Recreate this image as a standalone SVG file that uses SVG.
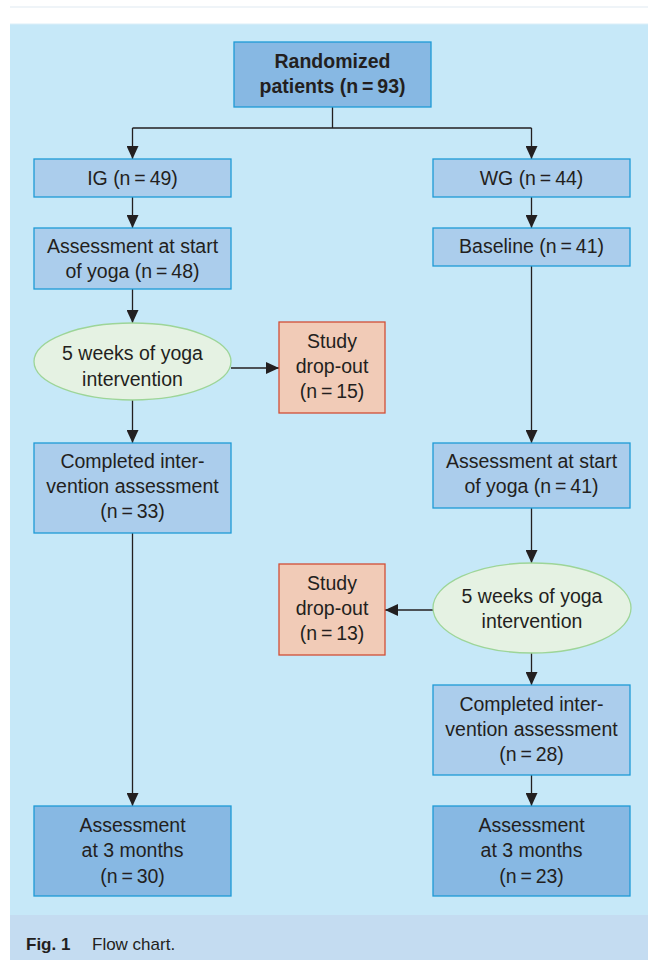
<svg xmlns="http://www.w3.org/2000/svg" width="648" height="960" viewBox="0 0 648 960">
<defs>
<marker id="ah" markerWidth="13" markerHeight="12" refX="13" refY="6" orient="auto" markerUnits="userSpaceOnUse">
<path d="M0,0 L13,6 L0,12 z" fill="#231f20"/>
</marker>
<style>
text{font-family:"Liberation Sans",Arial,sans-serif;font-size:19.5px;fill:#231f20;text-anchor:middle}
.b{font-weight:bold}
.box{fill:#abcdec;stroke:#1e9ad6;stroke-width:1.3}
.dark{fill:#87b8e3;stroke:#1e9ad6;stroke-width:1.3}
.drop{fill:#f1cbb7;stroke:#d24f37;stroke-width:1.3}
.ell{fill:#e5f2e3;stroke:#9dd598;stroke-width:1.3}
.c{fill:none;stroke:#231f20;stroke-width:1.3}
</style>
</defs>
<line x1="10" y1="7" x2="648" y2="7" stroke="#dfe9f1" stroke-width="1.2"/>
<rect x="10" y="24" width="638" height="891" fill="#c6e8f8"/>
<line x1="10" y1="24" x2="648" y2="24" stroke="#dbeef8" stroke-width="1"/>
<rect x="10" y="915" width="638" height="45" fill="#c4dcf1"/>
<text x="26" y="950" style="text-anchor:start;font-size:17px" class="b">Fig. 1</text>
<text x="92" y="950" style="text-anchor:start;font-size:17px">Flow chart.</text>

<g id="connectors">
<path class="c" d="M332.5,107 V128 M132.5,128 H531.5"/>
<path class="c" d="M132.5,128 V159" marker-end="url(#ah)"/>
<path class="c" d="M531.5,128 V159" marker-end="url(#ah)"/>
<path class="c" d="M132.5,197 V228" marker-end="url(#ah)"/>
<path class="c" d="M531.5,197 V228" marker-end="url(#ah)"/>
<path class="c" d="M132.5,289 V323" marker-end="url(#ah)"/>
<path class="c" d="M231,368 H279" marker-end="url(#ah)"/>
<path class="c" d="M132.5,400 V443" marker-end="url(#ah)"/>
<path class="c" d="M132.5,533 V806" marker-end="url(#ah)"/>
<path class="c" d="M531.5,266 V443" marker-end="url(#ah)"/>
<path class="c" d="M531.5,508 V563" marker-end="url(#ah)"/>
<path class="c" d="M433,610 H385" marker-end="url(#ah)"/>
<path class="c" d="M531.5,653 V685" marker-end="url(#ah)"/>
<path class="c" d="M531.5,775 V806" marker-end="url(#ah)"/>
</g>

<g id="randomized">
<rect class="dark" x="234" y="42" width="197" height="65"/>
<text class="b" x="332.5" y="68">Randomized</text>
<text class="b" x="332.5" y="93">patients (n&#8201;=&#8201;93)</text>
</g>
<g id="ig">
<rect class="box" x="34" y="159" width="197" height="38"/>
<text x="132.5" y="185">IG (n&#8201;=&#8201;49)</text>
</g>
<g id="wg">
<rect class="box" x="433" y="159" width="197" height="38"/>
<text x="531.5" y="185">WG (n&#8201;=&#8201;44)</text>
</g>
<g id="ig-start">
<rect class="box" x="34" y="228" width="197" height="61"/>
<text x="132.5" y="253">Assessment at start</text>
<text x="132.5" y="278">of yoga (n&#8201;=&#8201;48)</text>
</g>
<g id="wg-baseline">
<rect class="box" x="433" y="228" width="197" height="38"/>
<text x="531.5" y="253">Baseline (n&#8201;=&#8201;41)</text>
</g>
<g id="ig-yoga">
<ellipse class="ell" cx="132.5" cy="361.5" rx="98.5" ry="38.5"/>
<text x="132.5" y="360">5 weeks of yoga</text>
<text x="132.5" y="386">intervention</text>
</g>
<g id="ig-dropout">
<rect class="drop" x="279" y="322" width="106" height="91"/>
<text x="332" y="348">Study</text>
<text x="332" y="373">drop-out</text>
<text x="332" y="398">(n&#8201;=&#8201;15)</text>
</g>
<g id="ig-completed">
<rect class="box" x="34" y="443" width="197" height="90"/>
<text x="132.5" y="468">Completed inter-</text>
<text x="132.5" y="493">vention assessment</text>
<text x="132.5" y="518">(n&#8201;=&#8201;33)</text>
</g>
<g id="wg-start">
<rect class="box" x="433" y="443" width="197" height="65"/>
<text x="531.5" y="468">Assessment at start</text>
<text x="531.5" y="493">of yoga (n&#8201;=&#8201;41)</text>
</g>
<g id="wg-yoga">
<ellipse class="ell" cx="532" cy="608" rx="99" ry="45"/>
<text x="532" y="603">5 weeks of yoga</text>
<text x="532" y="628">intervention</text>
</g>
<g id="wg-dropout">
<rect class="drop" x="279" y="564" width="106" height="91"/>
<text x="332" y="590">Study</text>
<text x="332" y="615">drop-out</text>
<text x="332" y="640">(n&#8201;=&#8201;13)</text>
</g>
<g id="wg-completed">
<rect class="box" x="433" y="685" width="197" height="90"/>
<text x="531.5" y="711">Completed inter-</text>
<text x="531.5" y="736">vention assessment</text>
<text x="531.5" y="761">(n&#8201;=&#8201;28)</text>
</g>
<g id="ig-3m">
<rect class="dark" x="34" y="806" width="197" height="90"/>
<text x="132.5" y="832">Assessment</text>
<text x="132.5" y="857">at 3 months</text>
<text x="132.5" y="883">(n&#8201;=&#8201;30)</text>
</g>
<g id="wg-3m">
<rect class="dark" x="433" y="806" width="197" height="90"/>
<text x="531.5" y="832">Assessment</text>
<text x="531.5" y="857">at 3 months</text>
<text x="531.5" y="883">(n&#8201;=&#8201;23)</text>
</g>
</svg>
